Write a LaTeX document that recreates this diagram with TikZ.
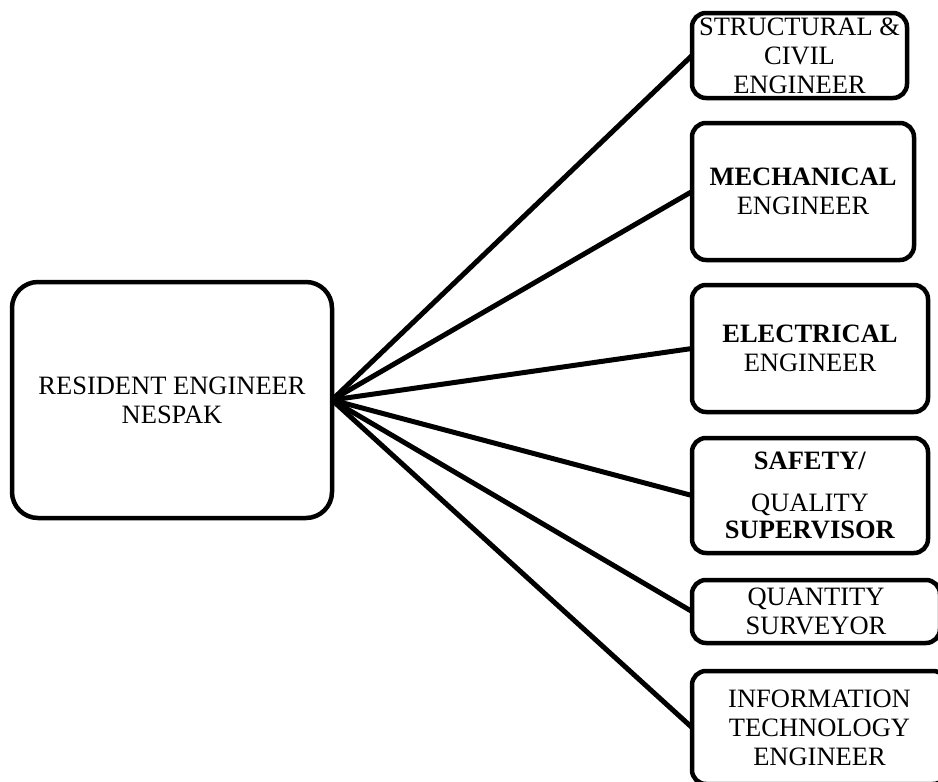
\documentclass[tikz,border=0pt]{standalone}
\usepackage{fontspec}
\setmainfont{Liberation Serif}
\begin{document}
\begin{tikzpicture}[x=1pt,y=-1pt,
  rolebox/.style={draw, line width=4.5pt, rounded corners=14pt, align=center,
    inner sep=0pt, outer sep=0pt, fill=white,
    font=\fontsize{26.5}{29}\selectfont},
  mainbox/.style={rolebox, rounded corners=26pt},
  link/.style={line width=5pt}]
\useasboundingbox (0,0) rectangle (938,782);
\clip (0,0) rectangle (938,782);
\fill[white] (0,0) rectangle (938,782);
\node[mainbox, minimum width=320pt, minimum height=236pt] (main) at (172,400)
  {RESIDENT ENGINEER\\NESPAK};
\node[rolebox, minimum width=215pt, minimum height=85pt] (b1) at (799.5,55.5)
  {STRUCTURAL \&\\CIVIL\\ENGINEER};
\node[rolebox, minimum width=222pt, minimum height=137pt] (b2) at (803,191.5)
  {\textbf{MECHANICAL}\\ENGINEER};
\node[rolebox, minimum width=236pt, minimum height=127pt] (b3) at (810,348.5)
  {\textbf{ELECTRICAL}\\ENGINEER};
\node[rolebox, minimum width=236pt, minimum height=115pt] (b4) at (810,495.5)
  {\textbf{SAFETY/}\\[13pt]QUALITY\\[-2pt]\textbf{SUPERVISOR}};
\node[rolebox, minimum width=248pt, minimum height=63pt] (b5) at (816,611.5)
  {QUANTITY\\SURVEYOR};
\node[rolebox, minimum width=255pt, minimum height=113pt] (b6) at (819.5,727.5)
  {INFORMATION\\TECHNOLOGY\\ENGINEER};
\foreach \b in {b1,b2,b3,b4,b5,b6}
  \draw[link] (main.east) -- (\b.west);
\end{tikzpicture}
\end{document}
